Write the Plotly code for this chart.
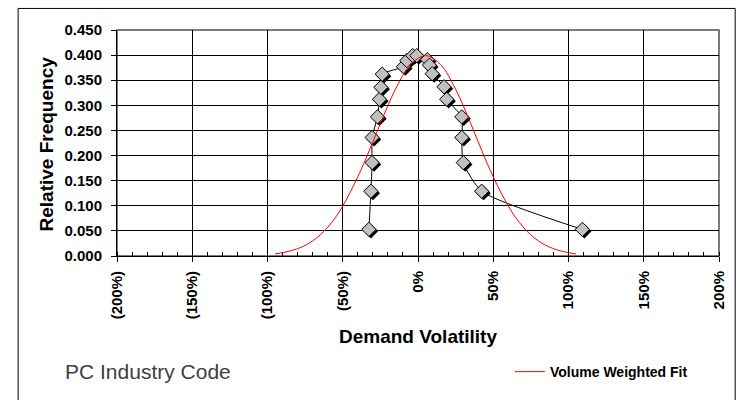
import plotly.graph_objects as go

# ---------------- data ----------------
vol_x = [-0.326, -0.313, -0.305, -0.305, -0.269, -0.256, -0.247, -0.238,
         -0.097, -0.074, -0.035, -0.008, 0.062, 0.076, 0.094, 0.173,
         0.191, 0.291, 0.291, 0.301, 0.423, 1.092]
vol_y = [0.053, 0.129, 0.186, 0.236, 0.277, 0.312, 0.336, 0.362,
         0.377, 0.389, 0.399, 0.399, 0.391, 0.380, 0.363, 0.337,
         0.312, 0.277, 0.236, 0.186, 0.129, 0.053]

fit_x = [-0.95, -0.85, -0.75, -0.65, -0.55, -0.45, -0.35, -0.25, -0.15, -0.05,
         0.05, 0.15, 0.25, 0.35, 0.45, 0.55, 0.65, 0.75, 0.85, 0.95, 1.05]
fit_y = [0.004, 0.010, 0.021, 0.042, 0.076, 0.127, 0.191, 0.264, 0.332, 0.381,
         0.399, 0.381, 0.332, 0.264, 0.191, 0.127, 0.076, 0.042, 0.021, 0.010, 0.004]

x_tick_vals = [-2.0, -1.5, -1.0, -0.5, 0.0, 0.5, 1.0, 1.5, 2.0]
x_tick_text = ["(200%)", "(150%)", "(100%)", "(50%)", "0%", "50%", "100%", "150%", "200%"]
y_tick_vals = [0.0, 0.05, 0.10, 0.15, 0.20, 0.25, 0.30, 0.35, 0.40, 0.45]

# ---------------- layout constants ----------------
W, H = 741, 400
DY = 2.5  # vertical correction
L, R, T, B = 116.5, 21.7, 27.7 + DY, 139.5 - DY
PW = W - L - R
PH = H - T - B
XR = [-2.0, 2.0]
YR = [0.0, 0.45]
SH = 2.0  # marker shadow offset in px
FONT = "Liberation Sans, Arial, sans-serif"


def pxx(p):
    return (p - L) / PW


def pxy(p):
    return (H - B - (p + DY)) / PH


xspan = XR[1] - XR[0]
yspan = YR[1] - YR[0]

fig = go.Figure()

# connecting line (true position)
fig.add_trace(go.Scatter(
    x=vol_x, y=vol_y, mode="lines",
    line=dict(color="black", width=1, shape="spline", smoothing=0.6),
    xaxis="x", yaxis="y", showlegend=False, hoverinfo="skip"))

# marker shadows (shifted subplot)
fig.add_trace(go.Scatter(
    x=vol_x, y=vol_y, mode="markers",
    marker=dict(symbol="diamond", size=11, color="black", line=dict(width=0)),
    xaxis="x2", yaxis="y2", showlegend=False, hoverinfo="skip", cliponaxis=False))

# markers
fig.add_trace(go.Scatter(
    x=vol_x, y=vol_y, mode="markers",
    marker=dict(symbol="diamond", size=11, color="#C0C0C0",
                line=dict(color="black", width=1)),
    xaxis="x3", yaxis="y3", showlegend=False, cliponaxis=False))

# fitted curve
fig.add_trace(go.Scatter(
    x=fit_x, y=fit_y, mode="lines", name="Volume Weighted Fit",
    line=dict(color="#FF0000", width=1, shape="spline", smoothing=1.0),
    xaxis="x3", yaxis="y3", showlegend=True))

hidden = dict(visible=False, showgrid=False, zeroline=False, fixedrange=True)

fig.update_layout(
    width=W, height=H,
    margin=dict(l=L, r=R, t=T, b=B, pad=0),
    paper_bgcolor="white", plot_bgcolor="rgba(0,0,0,0)",
    font=dict(family=FONT, color="black"),
    xaxis=dict(
        range=XR, tickmode="array", tickvals=x_tick_vals, ticktext=x_tick_text,
        tickangle=-90, ticks="outside", ticklen=5, tickwidth=1, tickcolor="black",
        ticklabelstandoff=3,
        tickfont=dict(size=15, family=FONT, weight="bold", color="black"),
        showgrid=True, gridcolor="black", gridwidth=1,
        showline=True, linecolor="black", linewidth=1,
        zeroline=False, fixedrange=True,
        minor=dict(tickmode="linear", tick0=0, dtick=0.1, ticks="inside",
                   ticklen=4, tickcolor="black", showgrid=False),
    ),
    yaxis=dict(
        range=YR, tickmode="array", tickvals=y_tick_vals, tickformat=".3f",
        ticks="outside", ticklen=5, tickwidth=1, tickcolor="black",
        ticklabelstandoff=6,
        tickfont=dict(size=15, family=FONT, weight="bold", color="black"),
        showgrid=True, gridcolor="black", gridwidth=1,
        showline=True, linecolor="black", linewidth=1,
        zeroline=False, fixedrange=True,
    ),
    xaxis2=dict(hidden, domain=[SH / PW, 1], range=[XR[0], XR[1] - SH * xspan / PW],
                anchor="y2"),
    yaxis2=dict(hidden, domain=[0, 1 - SH / PH], range=[YR[0] + SH * yspan / PH, YR[1]],
                anchor="x2"),
    xaxis3=dict(hidden, domain=[0, 1], range=XR, anchor="y3"),
    yaxis3=dict(hidden, domain=[0, 1], range=YR, anchor="x3"),
    showlegend=True,
    legend=dict(x=pxx(510), y=pxy(380), xanchor="left", yanchor="middle",
                bgcolor="rgba(0,0,0,0)", borderwidth=0,
                font=dict(size=14, family=FONT, weight="bold", color="black")),
    annotations=[
        dict(text="Demand Volatility", xref="paper", yref="paper",
             x=0.5, y=pxy(343), xanchor="center", yanchor="middle", showarrow=False,
             font=dict(size=19, family=FONT, weight="bold", color="black")),
        dict(text="Relative Frequency", xref="paper", yref="paper",
             x=pxx(46), y=pxy(145), xanchor="center", yanchor="middle", showarrow=False,
             textangle=-90,
             font=dict(size=19, family=FONT, weight="bold", color="black")),
        dict(text="PC Industry Code", xref="paper", yref="paper",
             x=pxx(62), y=pxy(379), xanchor="left", yanchor="middle", showarrow=False,
             font=dict(size=21, family=FONT, color="#404040")),
    ],
    shapes=[
        # plot area border (top/right appear gray)
        dict(type="rect", xref="paper", yref="paper", x0=0, y0=0, x1=1, y1=1,
             line=dict(color="#505050", width=1.5), layer="below"),
        # outer chart border
        dict(type="rect", xref="paper", yref="paper",
             x0=pxx(17.5), y0=pxy(410), x1=pxx(735.5), y1=pxy(5.5),
             line=dict(color="black", width=1), layer="below"),
    ],
)

fig.write_html("out.html",
               config={"displayModeBar": False},
               post_script="document.body.style.margin='0';document.body.style.overflow='hidden';")
